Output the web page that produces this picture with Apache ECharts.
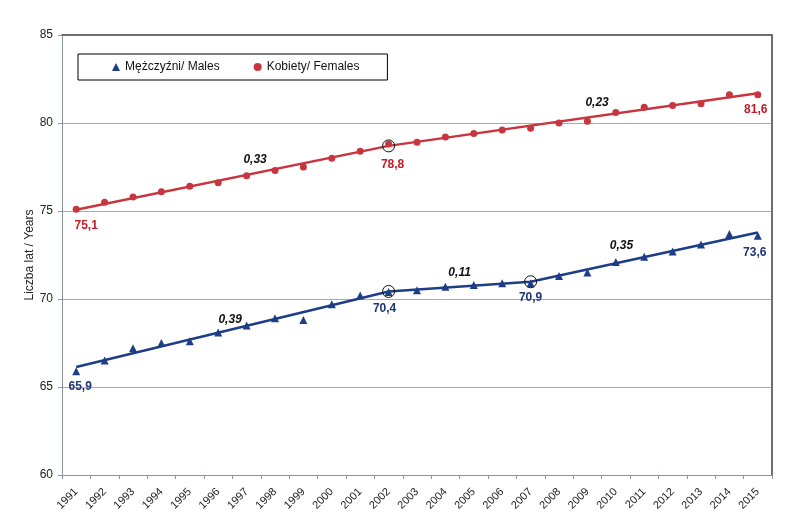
<!DOCTYPE html>
<html>
<head>
<meta charset="utf-8">
<script src="https://cdn.jsdelivr.net/npm/echarts@6/dist/echarts.min.js"></script>
<style>html,body{margin:0;padding:0;background:#fff}#c{width:800px;height:521px}</style>
</head>
<body>
<div id="c"></div>
<script>
const years = ['1991','1992','1993','1994','1995','1996','1997','1998','1999','2000','2001','2002','2003','2004','2005','2006','2007','2008','2009','2010','2011','2012','2013','2014','2015'];
const males = [65.9,66.5,67.2,67.5,67.6,68.1,68.5,68.9,68.8,69.7,70.2,70.4,70.5,70.7,70.8,70.9,70.9,71.3,71.5,72.1,72.4,72.7,73.1,73.7,73.6];
const females = [75.1,75.5,75.8,76.1,76.4,76.6,77.0,77.3,77.5,78.0,78.4,78.8,78.9,79.2,79.4,79.6,79.7,80.0,80.1,80.6,80.9,81.0,81.1,81.6,81.6];
// joinpoint trend lines (year, fitted value)
const maleTrend = [[1991,66.14],[2002,70.43],[2007,70.98],[2015,73.78]];
const femaleTrend = [[1991,75.07],[2002,78.7],[2015,81.69]];
// slope annotations (year, value, text)
const slopeNotes = [[1997.3,77.9,'0,33'],[2009.34,81.14,'0,23'],[1996.42,68.81,'0,39'],[2004.5,71.48,'0,11'],[2010.2,73.01,'0,35']];
const maleLabelled = ['1991','2002','2007','2015'];
const femaleLabelled = ['1991','2002','2015'];
const yTicks = {min:60, max:85, interval:5};

const red = '#c8353e', redText = '#c41c26';
const blue = '#1d3d87', blueText = '#1f3578';
const font = 'Liberation Sans, Arial, sans-serif';

const maleOffsets = {'1991':[4,16],'2002':[-4,17],'2007':[0,15],'2015':[-3,17]};
const femaleOffsets = {'1991':[10,16],'2002':[4,21],'2015':[-2,15]};

function buildPoints(vals, labelled, offsets, color){
  return vals.map((v,i)=>{
    const y = years[i];
    const d = {value:[i, v]};
    if (labelled.includes(y)) {
      d.label = {show:true, position:'inside', offset:offsets[y], formatter: String(v).replace('.',','),
        color:color, fontWeight:'bold', fontSize:12, fontFamily:font};
    }
    return d;
  });
}
const joinpoints = [maleTrend, femaleTrend].flatMap(t => t.slice(1, -1));

const chart = echarts.init(document.getElementById('c'), null, {renderer:'canvas'});
chart.setOption({
  animation:false,
  grid:{left:62, right:28, top:35, bottom:46, containLabel:false},
  legend:{
    left:78, top:54, orient:'horizontal',
    padding:[7,28,7,34], itemGap:34, itemWidth:8, itemHeight:8,
    borderColor:'#000', borderWidth:1, backgroundColor:'#fff',
    textStyle:{fontSize:12, fontFamily:font, color:'#111'},
    data:['Mężczyźni/ Males','Kobiety/ Females']
  },
  xAxis:[
    {type:'category', data:years, boundaryGap:true,
      axisLine:{lineStyle:{color:'#8996a3', width:1}},
      axisTick:{show:true, alignWithLabel:false, length:4, lineStyle:{color:'#8996a3'}},
      axisLabel:{rotate:45, fontSize:11, fontFamily:font, color:'#222', margin:15, interval:0},
      splitLine:{show:false}},
    {type:'value', position:'top', min:1990.5, max:2015.5,
      axisLine:{show:true, lineStyle:{color:'#6e6e6e', width:2}},
      axisTick:{show:false}, axisLabel:{show:false}, splitLine:{show:false}}
  ],
  yAxis:[
    {type:'value', min:yTicks.min, max:yTicks.max, interval:yTicks.interval,
      name:'Liczba lat / Years', nameLocation:'middle', nameGap:26, nameRotate:90, nameMoveOverlap:false,
      nameTextStyle:{fontSize:12, fontFamily:font, color:'#222'},
      axisLine:{show:true, lineStyle:{color:'#8996a3', width:1}},
      axisTick:{show:true, length:4, lineStyle:{color:'#8996a3'}},
      axisLabel:{fontSize:12, fontFamily:font, color:'#222', margin:9},
      splitLine:{show:true, lineStyle:{color:'#a3acb5', width:1}}},
    {type:'value', position:'right', min:yTicks.min, max:yTicks.max, interval:yTicks.interval,
      axisLine:{show:true, lineStyle:{color:'#6e6e6e', width:2}},
      axisTick:{show:false}, axisLabel:{show:false}, splitLine:{show:false}}
  ],
  series:[
    {type:'line', xAxisIndex:1, data:femaleTrend, symbol:'none', lineStyle:{color:red, width:2.5}, z:2, silent:true},
    {type:'line', xAxisIndex:1, data:maleTrend, symbol:'none', lineStyle:{color:blue, width:2.5}, z:2, silent:true},
    {name:'Mężczyźni/ Males', type:'scatter', xAxisIndex:0, symbol:'triangle', symbolSize:8,
      itemStyle:{color:blue, opacity:1}, data:buildPoints(males, maleLabelled, maleOffsets, blueText), z:3},
    {name:'Kobiety/ Females', type:'scatter', xAxisIndex:0, symbol:'circle', symbolSize:7,
      itemStyle:{color:red, opacity:1}, data:buildPoints(females, femaleLabelled, femaleOffsets, redText), z:3},
    {type:'scatter', xAxisIndex:1, data:joinpoints, symbol:'circle', symbolSize:12,
      itemStyle:{color:'rgba(0,0,0,0)', borderColor:'#111', borderWidth:1, opacity:1}, z:4, silent:true},
    {type:'scatter', xAxisIndex:1, symbolSize:0, z:5, silent:true, itemStyle:{opacity:1},
      data:slopeNotes.map(n=>({value:[n[0],n[1]], label:{show:true, position:'inside', formatter:n[2],
        color:'#111', fontWeight:'bold', fontStyle:'italic', fontSize:12, fontFamily:font}}))}
  ]
});
</script>
</body>
</html>
